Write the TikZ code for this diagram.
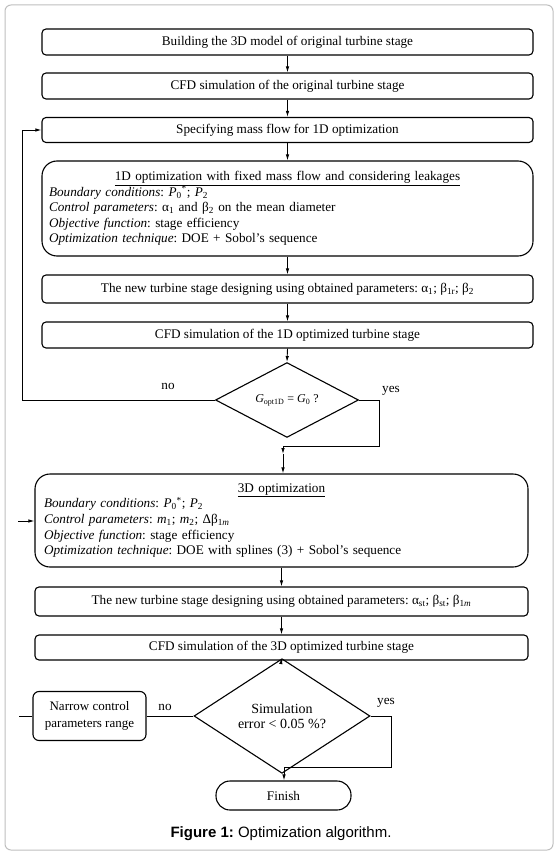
\documentclass[tikz,border=0pt]{standalone}
\usepackage{fontspec}
\setmainfont{Liberation Serif}
\newfontfamily\capfont{Liberation Sans}
\usetikzlibrary{arrows.meta,shapes.geometric}
\frenchspacing
\begin{document}
\begin{tikzpicture}[x=1pt,y=-1pt,
  every node/.style={font=\fontsize{13.2}{15.6}\selectfont},
  stepbox/.style={draw, line width=1.1pt, rounded corners=4pt, minimum width=491pt, inner sep=0pt, align=center},
  bigbox/.style={draw, line width=1.1pt, rounded corners=15pt, align=left, inner ysep=0pt},
  decision/.style={draw, diamond, line width=1.1pt, inner sep=0pt, align=center},
  conn/.style={line width=0.9pt, -{Latex[length=6pt,width=3.5pt]}},
  plainline/.style={line width=0.9pt},
  lab/.style={inner sep=0pt}
]
\useasboundingbox (0,0) rectangle (558,858);
\draw[black!25, line width=1pt, rounded corners=6pt] (5,5) rectangle (553,850);

\node[stepbox, minimum height=26pt] (b1) at (287.5,42) {Building the 3D model of original turbine stage};
\node[stepbox, minimum height=26pt] (b2) at (287.5,86) {CFD simulation of the original turbine stage};
\node[stepbox, minimum height=25pt] (b3) at (287.5,130) {Specifying mass flow for 1D optimization};
\node[bigbox, text width=477pt, inner xsep=7pt, minimum height=95pt] (b4) at (287.5,208.5) {\makebox[477pt][c]{\underline{1D optimization with fixed mass flow and considering leakages}}\\
\textit{Boundary conditions}: \textit{P}\textsubscript{0}\textsuperscript{*}; \textit{P}\textsubscript{2}\\
\textit{Control parameters}: α\textsubscript{1} and β\textsubscript{2} on the mean diameter\\
\textit{Objective function}: stage efficiency\\
\textit{Optimization technique}: DOE + Sobol’s sequence};
\node[stepbox, minimum height=28pt] (b5) at (287.5,289) {The new turbine stage designing using obtained parameters: α\textsubscript{1}; β\textsubscript{1r}; β\textsubscript{2}};
\node[stepbox, minimum height=26pt] (b6) at (287.5,335) {CFD simulation of the 1D optimized turbine stage};
\node[decision, minimum width=143pt, minimum height=66pt, font=\fontsize{12}{14}\selectfont] (d1) at (287,400) {\textit{G}\textsubscript{opt1D} = \textit{G}\textsubscript{0} ?};

\node[bigbox, text width=475pt, inner xsep=9pt, minimum height=93pt] (b7) at (281.5,520.5) {\makebox[475pt][c]{\underline{3D optimization}}\\
\textit{Boundary conditions}: \textit{P}\textsubscript{0}\textsuperscript{*}; \textit{P}\textsubscript{2}\\
\textit{Control parameters}: \textit{m}\textsubscript{1}; \textit{m}\textsubscript{2}; Δβ\textsubscript{1\textit{m}}\\
\textit{Objective function}: stage efficiency\\
\textit{Optimization technique}: DOE with splines (3) + Sobol’s sequence};
\node[stepbox, minimum width=493pt, minimum height=29pt] (b8) at (281.5,601.5) {The new turbine stage designing using obtained parameters: α\textsubscript{st}; β\textsubscript{st}; β\textsubscript{1\textit{m}}};
\node[stepbox, minimum width=493pt, minimum height=25pt] (b9) at (281.5,647.5) {CFD simulation of the 3D optimized turbine stage};
\node[decision, minimum width=176pt, minimum height=74pt, font=\fontsize{14}{14.7}\selectfont] (d2) at (282,716) {\raisebox{-4pt}{\parbox{90pt}{\centering Simulation\\error {\char`\<} 0.05 \%?}}};
\node[draw, line width=1.1pt, rounded corners=6pt, minimum width=113pt, minimum height=49pt, inner sep=0pt, align=center, font=\fontsize{13}{17}\selectfont] (nb) at (89.5,716) {Narrow control\\parameters range};
\node[draw, line width=1.1pt, rounded corners=14pt, minimum width=135pt, minimum height=29pt, inner sep=0pt] (fin) at (283.5,795.5) {Finish};
\node[font=\capfont\fontsize{15}{17}\selectfont] (cap) at (281,834) {\textbf{Figure 1:} Optimization algorithm.};

\draw[conn] (b1.south) -- (b2.north);
\draw[conn] (b2.south) -- (b3.north);
\draw[conn] (b3.south) -- (b4.north);
\draw[conn] (b4.south) -- (b5.north);
\draw[conn] (b5.south) -- (b6.north);
\draw[conn] (b6.south) -- (d1.north);

\coordinate (l1) at (22,400);
\coordinate (l2) at (22,130);
\draw[conn] (d1.west) -- (l1) -- (l2) -- (b3.west);

\coordinate (y1) at (379,400);
\coordinate (y2) at (379,446);
\coordinate (y3) at (283,446);
\coordinate (y4) at (283,454);
\draw[conn] (d1.east) -- (y1) -- (y2) -- (y3) -- (y4);
\draw[conn] (y4) -- (y4 |- b7.north);

\coordinate (s1) at (18,521);
\draw[conn] (s1) -- (s1 -| b7.west);

\draw[conn] (b7.south) -- (b8.north);
\draw[conn] (b8.south) -- (b9.north);
\draw[conn] (b9.south) -- (d2.north);

\coordinate (s2) at (19,716);
\draw[plainline] (nb.west) -- (s2);
\draw[plainline] (nb.east) -- (d2.west);

\coordinate (z1) at (391,716);
\coordinate (z2) at (391,767);
\coordinate (z3) at (284,767);
\draw[conn] (d2.east) -- (z1) -- (z2) -- (z3) -- (z3 |- fin.north);

\node[lab] (no1) at (168,386) {no};
\node[lab] (yes1) at (391,391) {yes};
\node[lab] (no2) at (165,707) {no};
\node[lab] (yes2) at (386,703) {yes};
\end{tikzpicture}
\end{document}
